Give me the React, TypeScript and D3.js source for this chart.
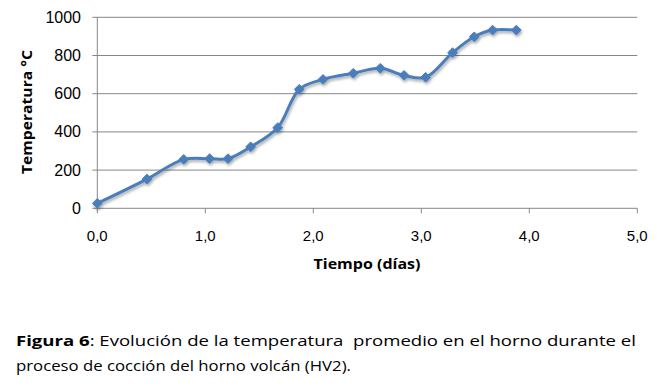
import React from 'react';
import * as d3 from 'd3';

// tiempo (días) y temperatura (°C)
const tiempo = [0, 0.46, 0.8, 1.04, 1.21, 1.42, 1.67, 1.87, 2.09, 2.37, 2.62, 2.84, 3.04, 3.29, 3.49, 3.66, 3.88];
const temperatura = [26, 153, 256, 260, 260, 322, 422, 623, 675, 707, 733, 696, 686, 815, 898, 933, 933];
const xTicks = [0, 1, 2, 3, 4, 5];
const yTicks = [0, 200, 400, 600, 800, 1000];

const W = 664;
const H = 385;
const plot = { left: 97.3, right: 637.3, top: 17.3, bottom: 208.3 };

export default function App() {
  const x = d3.scaleLinear().domain([0, 5]).range([plot.left, plot.right]);
  const y = d3.scaleLinear().domain([0, 1000]).range([plot.bottom, plot.top]);
  const pts = tiempo.map((t, i) => [x(t), y(temperatura[i])] as [number, number]);
  const line = d3.line().curve(d3.curveCatmullRom.alpha(0.5))(pts) || '';
  const diamond = d3.symbol().type(d3.symbolDiamond2).size(60)() || '';
  const fmt = (v: number) => v.toFixed(1).replace('.', ',');
  const axisFont = '"Liberation Sans", Arial, sans-serif';
  const titleFont = '"Open Sans", sans-serif';
  const grid = '#868686';
  const blue = '#4a7ebb';

  return (
    <svg width={W} height={H} style={{ position: 'absolute', left: 0, top: 0, background: '#fff' }}>
      <defs>
        <filter id="sh" x="-20%" y="-20%" width="140%" height="140%">
          <feGaussianBlur in="SourceAlpha" stdDeviation="1.5" />
          <feOffset dx="1" dy="2" result="b" />
          <feComponentTransfer><feFuncA type="linear" slope="0.35" /></feComponentTransfer>
          <feMerge><feMergeNode /><feMergeNode in="SourceGraphic" /></feMerge>
        </filter>
      </defs>
      {yTicks.map(v => (
        <g key={'y' + v}>
          <line x1={plot.left - 5} x2={plot.right} y1={y(v)} y2={y(v)} stroke={grid} strokeWidth={1} />
          <text x={81} y={y(v) + 5.5} textAnchor="end" fontFamily={axisFont} fontSize={16} fill="#000">{v}</text>
        </g>
      ))}
      <line x1={plot.left} x2={plot.left} y1={plot.top} y2={plot.bottom} stroke={grid} />
      {xTicks.map(v => (
        <g key={'x' + v}>
          <line x1={x(v)} x2={x(v)} y1={plot.bottom} y2={plot.bottom + 5} stroke={grid} />
          <text x={x(v)} y={241} textAnchor="middle" fontFamily={axisFont} fontSize={15} fill="#000">{fmt(v)}</text>
        </g>
      ))}
      <text x={367} y={269} textAnchor="middle" fontFamily={titleFont} fontSize={14} fontWeight="bold" textLength={107} lengthAdjust="spacingAndGlyphs">Tiempo (días)</text>
      <text transform="translate(32,112) rotate(-90)" textAnchor="middle" fontFamily={titleFont} fontSize={14} fontWeight="bold" textLength={124} lengthAdjust="spacingAndGlyphs">Temperatura °C</text>
      <g filter="url(#sh)">
        <path d={line} fill="none" stroke={blue} strokeWidth={3} strokeLinejoin="round" />
        {pts.map((p, i) => (
          <path key={i} d={diamond} transform={`translate(${p[0]},${p[1]})`} fill={blue} stroke={blue} strokeWidth={1} />
        ))}
      </g>
      <text x={16} y={346} fontFamily={titleFont} fontSize={15} textLength={620} lengthAdjust="spacingAndGlyphs" style={{ whiteSpace: 'pre' }}>
        <tspan fontWeight="bold">Figura 6</tspan>{': Evolución de la temperatura  promedio en el horno durante el'}
      </text>
      <text x={16} y={371} fontFamily={titleFont} fontSize={15} textLength={335} lengthAdjust="spacingAndGlyphs">
        proceso de cocción del horno volcán (HV2).
      </text>
    </svg>
  );
}
